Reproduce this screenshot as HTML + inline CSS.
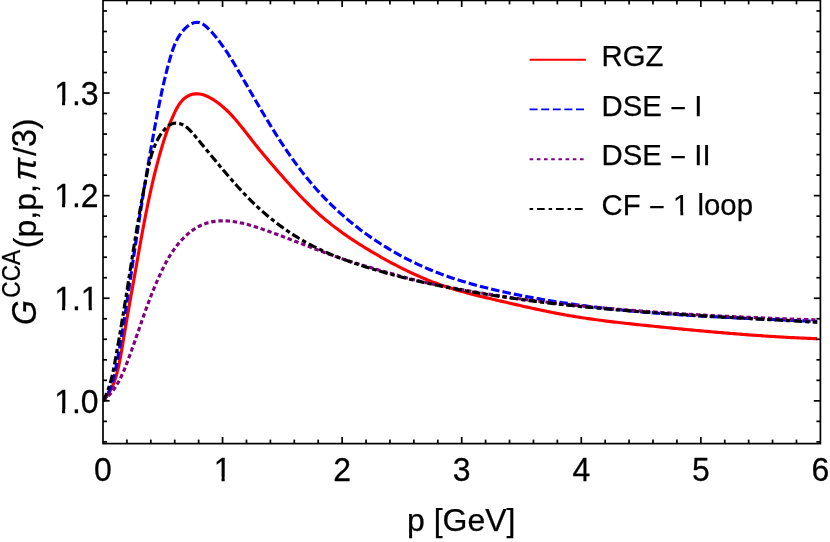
<!DOCTYPE html>
<html><head><meta charset="utf-8"><title>plot</title>
<style>
html,body{margin:0;padding:0;background:#fff;}
body{width:830px;height:542px;overflow:hidden;}
svg{display:block;will-change:transform;}
text{font-family:"Liberation Sans",sans-serif;fill:#000;stroke:#000;stroke-width:0.25px;}
</style></head><body>
<svg width="830" height="542" viewBox="0 0 830 542">
<rect width="830" height="542" fill="#fff"/>
<defs><clipPath id="c"><rect x="103.0" y="0" width="714.1999999999999" height="443.6"/></clipPath></defs>
<g clip-path="url(#c)" fill="none" stroke-linejoin="round">
<path d="M103.00,400.85 L104.39,399.29 L105.69,397.68 L106.92,396.03 L108.08,394.34 L109.16,392.61 L110.18,390.84 L111.13,389.04 L112.02,387.21 L112.85,385.35 L113.63,383.46 L114.36,381.54 L115.04,379.60 L115.68,377.64 L116.28,375.66 L116.84,373.67 L117.36,371.66 L117.86,369.64 L118.33,367.61 L118.78,365.57 L119.20,363.53 L119.62,361.49 L120.01,359.44 L120.40,357.40 L120.78,355.35 L121.15,353.31 L121.51,351.27 L121.86,349.24 L122.21,347.20 L122.56,345.16 L122.90,343.13 L123.24,341.10 L123.57,339.06 L123.91,337.03 L124.24,335.00 L124.57,332.97 L124.91,330.94 L125.25,328.92 L125.58,326.89 L125.93,324.86 L126.27,322.83 L126.62,320.81 L126.96,318.78 L127.31,316.76 L127.66,314.73 L128.02,312.71 L128.37,310.68 L128.73,308.66 L129.08,306.63 L129.44,304.61 L129.80,302.58 L130.16,300.55 L130.52,298.53 L130.88,296.50 L131.24,294.47 L131.60,292.45 L131.97,290.42 L132.33,288.39 L132.69,286.36 L133.05,284.33 L133.42,282.30 L133.78,280.27 L134.14,278.23 L134.50,276.20 L134.86,274.16 L135.22,272.13 L135.58,270.09 L135.94,268.05 L136.30,266.02 L136.66,263.98 L137.02,261.94 L137.38,259.90 L137.74,257.86 L138.10,255.82 L138.46,253.77 L138.83,251.73 L139.19,249.69 L139.56,247.65 L139.92,245.61 L140.29,243.57 L140.66,241.53 L141.03,239.48 L141.40,237.44 L141.78,235.40 L142.15,233.36 L142.53,231.32 L142.91,229.28 L143.29,227.25 L143.68,225.21 L144.07,223.17 L144.46,221.14 L144.85,219.10 L145.25,217.07 L145.64,215.04 L146.05,213.00 L146.45,210.97 L146.86,208.95 L147.27,206.92 L147.69,204.89 L148.11,202.87 L148.53,200.84 L148.96,198.82 L149.39,196.80 L149.83,194.79 L150.27,192.77 L150.71,190.76 L151.16,188.75 L151.62,186.74 L152.08,184.73 L152.54,182.73 L153.01,180.72 L153.48,178.72 L153.96,176.73 L154.45,174.73 L154.94,172.74 L155.44,170.75 L155.94,168.76 L156.45,166.78 L156.96,164.80 L157.48,162.82 L158.01,160.85 L158.54,158.87 L159.08,156.91 L159.63,154.94 L160.18,152.98 L160.74,151.02 L161.31,149.07 L161.89,147.11 L162.47,145.17 L163.07,143.22 L163.67,141.27 L164.29,139.32 L164.93,137.38 L165.58,135.43 L166.24,133.48 L166.93,131.53 L167.63,129.57 L168.35,127.61 L169.09,125.65 L169.86,123.68 L170.65,121.70 L171.46,119.73 L172.30,117.76 L173.17,115.80 L174.07,113.85 L174.99,111.92 L175.95,110.00 L176.95,108.11 L178.00,106.28 L179.11,104.50 L180.30,102.81 L181.58,101.21 L182.95,99.73 L184.44,98.37 L186.04,97.16 L187.75,96.11 L189.54,95.23 L191.41,94.55 L193.34,94.08 L195.31,93.83 L197.31,93.80 L199.32,93.96 L201.31,94.30 L203.28,94.81 L205.20,95.45 L207.08,96.22 L208.92,97.10 L210.72,98.07 L212.48,99.11 L214.20,100.20 L215.90,101.34 L217.56,102.53 L219.19,103.76 L220.79,105.03 L222.37,106.35 L223.92,107.70 L225.44,109.08 L226.94,110.50 L228.41,111.95 L229.87,113.42 L231.30,114.93 L232.72,116.45 L234.11,118.00 L235.49,119.57 L236.86,121.16 L238.21,122.77 L239.55,124.39 L240.88,126.02 L242.19,127.66 L243.50,129.30 L244.80,130.96 L246.09,132.61 L247.38,134.27 L248.66,135.93 L249.95,137.58 L251.22,139.23 L252.50,140.87 L253.78,142.50 L255.07,144.12 L256.35,145.73 L257.64,147.33 L258.93,148.92 L260.22,150.50 L261.52,152.08 L262.82,153.64 L264.12,155.20 L265.42,156.76 L266.73,158.31 L268.05,159.86 L269.36,161.40 L270.68,162.94 L272.01,164.48 L273.34,166.02 L274.67,167.56 L276.01,169.10 L277.35,170.64 L278.70,172.19 L280.05,173.73 L281.41,175.28 L282.77,176.83 L284.14,178.37 L285.51,179.92 L286.89,181.47 L288.27,183.01 L289.66,184.56 L291.06,186.10 L292.46,187.63 L293.87,189.17 L295.29,190.70 L296.71,192.22 L298.14,193.74 L299.57,195.25 L301.02,196.76 L302.47,198.25 L303.92,199.74 L305.39,201.23 L306.86,202.70 L308.34,204.16 L309.83,205.62 L311.32,207.06 L312.83,208.49 L314.34,209.91 L315.86,211.31 L317.39,212.71 L318.93,214.09 L320.48,215.45 L322.03,216.80 L323.60,218.14 L325.17,219.46 L326.75,220.77 L328.34,222.07 L329.94,223.35 L331.55,224.62 L333.16,225.88 L334.79,227.13 L336.42,228.36 L338.06,229.59 L339.70,230.80 L341.36,232.00 L343.02,233.19 L344.69,234.37 L346.37,235.54 L348.05,236.70 L349.74,237.85 L351.44,239.00 L353.15,240.13 L354.86,241.25 L356.58,242.37 L358.31,243.48 L360.04,244.58 L361.78,245.67 L363.53,246.76 L365.28,247.84 L367.04,248.91 L368.80,249.97 L370.57,251.03 L372.35,252.09 L374.13,253.14 L375.92,254.18 L377.71,255.22 L379.51,256.25 L381.32,257.28 L383.13,258.30 L384.94,259.31 L386.77,260.32 L388.59,261.31 L390.42,262.30 L392.26,263.29 L394.10,264.26 L395.95,265.23 L397.80,266.19 L399.66,267.13 L401.52,268.07 L403.38,269.00 L405.25,269.92 L407.13,270.83 L409.00,271.73 L410.89,272.62 L412.77,273.50 L414.66,274.37 L416.56,275.22 L418.46,276.06 L420.36,276.89 L422.27,277.71 L424.18,278.52 L426.09,279.31 L428.01,280.09 L429.93,280.86 L431.85,281.61 L433.78,282.35 L435.71,283.08 L437.64,283.79 L439.58,284.48 L441.52,285.16 L443.46,285.83 L445.41,286.48 L447.35,287.12 L449.30,287.75 L451.26,288.36 L453.21,288.96 L455.17,289.55 L457.13,290.13 L459.10,290.70 L461.06,291.26 L463.03,291.81 L465.01,292.35 L466.98,292.88 L468.96,293.41 L470.93,293.92 L472.92,294.43 L474.90,294.94 L476.88,295.43 L478.87,295.92 L480.86,296.41 L482.85,296.90 L484.85,297.37 L486.84,297.85 L488.84,298.32 L490.84,298.79 L492.84,299.26 L494.84,299.73 L496.85,300.19 L498.85,300.66 L500.86,301.13 L502.87,301.59 L504.88,302.06 L506.90,302.53 L508.91,302.99 L510.93,303.46 L512.95,303.92 L514.96,304.38 L516.98,304.85 L519.01,305.31 L521.03,305.77 L523.05,306.22 L525.08,306.68 L527.10,307.13 L529.13,307.58 L531.16,308.03 L533.19,308.47 L535.22,308.91 L537.25,309.35 L539.28,309.78 L541.32,310.21 L543.35,310.64 L545.38,311.06 L547.42,311.48 L549.46,311.89 L551.49,312.30 L553.53,312.70 L555.57,313.09 L557.60,313.49 L559.64,313.87 L561.68,314.25 L563.72,314.62 L565.76,314.99 L567.80,315.35 L569.84,315.70 L571.88,316.05 L573.92,316.39 L575.96,316.72 L578.00,317.05 L580.04,317.37 L582.09,317.69 L584.13,318.00 L586.17,318.30 L588.21,318.60 L590.25,318.89 L592.30,319.18 L594.34,319.47 L596.38,319.75 L598.43,320.02 L600.47,320.29 L602.51,320.56 L604.56,320.82 L606.60,321.07 L608.65,321.33 L610.69,321.58 L612.74,321.82 L614.78,322.07 L616.83,322.31 L618.87,322.54 L620.92,322.78 L622.97,323.01 L625.01,323.24 L627.06,323.46 L629.11,323.69 L631.15,323.91 L633.20,324.13 L635.25,324.35 L637.30,324.57 L639.34,324.78 L641.39,324.99 L643.44,325.21 L645.49,325.42 L647.54,325.63 L649.59,325.84 L651.64,326.05 L653.69,326.26 L655.74,326.47 L657.79,326.67 L659.84,326.88 L661.89,327.09 L663.94,327.29 L665.99,327.50 L668.04,327.70 L670.09,327.91 L672.14,328.11 L674.20,328.31 L676.25,328.52 L678.30,328.72 L680.35,328.92 L682.41,329.11 L684.46,329.31 L686.51,329.51 L688.56,329.70 L690.62,329.90 L692.67,330.09 L694.73,330.28 L696.78,330.48 L698.83,330.67 L700.89,330.86 L702.94,331.04 L705.00,331.23 L707.05,331.42 L709.11,331.60 L711.17,331.78 L713.22,331.96 L715.28,332.14 L717.33,332.32 L719.39,332.50 L721.45,332.67 L723.50,332.85 L725.56,333.02 L727.62,333.19 L729.68,333.36 L731.73,333.53 L733.79,333.69 L735.85,333.86 L737.91,334.02 L739.97,334.18 L742.03,334.34 L744.08,334.50 L746.14,334.66 L748.20,334.81 L750.26,334.96 L752.32,335.11 L754.38,335.26 L756.44,335.40 L758.50,335.55 L760.56,335.69 L762.62,335.83 L764.68,335.97 L766.75,336.10 L768.81,336.24 L770.87,336.37 L772.93,336.50 L774.99,336.63 L777.05,336.75 L779.12,336.87 L781.18,336.99 L783.24,337.11 L785.30,337.23 L787.37,337.34 L789.43,337.45 L791.49,337.56 L793.56,337.66 L795.62,337.77 L797.68,337.87 L799.75,337.97 L801.81,338.06 L803.88,338.16 L805.94,338.25 L808.01,338.33 L810.07,338.42 L812.14,338.50 L814.20,338.58 L816.27,338.66 L818.33,338.73 L820.40,338.80" stroke="#f00" stroke-width="3.15"/>
<path d="M103.00,400.85 L104.50,398.91 L105.86,396.95 L107.10,394.97 L108.23,392.96 L109.24,390.92 L110.16,388.87 L110.99,386.79 L111.74,384.69 L112.42,382.58 L113.04,380.45 L113.61,378.30 L114.14,376.13 L114.63,373.95 L115.10,371.76 L115.56,369.55 L116.00,367.33 L116.44,365.10 L116.88,362.86 L117.30,360.61 L117.72,358.36 L118.14,356.10 L118.55,353.83 L118.95,351.55 L119.35,349.28 L119.74,347.00 L120.13,344.72 L120.52,342.43 L120.90,340.15 L121.28,337.87 L121.66,335.60 L122.03,333.32 L122.40,331.04 L122.77,328.77 L123.14,326.50 L123.50,324.23 L123.86,321.96 L124.22,319.69 L124.57,317.43 L124.92,315.16 L125.28,312.90 L125.62,310.63 L125.97,308.37 L126.32,306.11 L126.66,303.85 L127.00,301.59 L127.35,299.33 L127.69,297.07 L128.02,294.82 L128.36,292.56 L128.70,290.31 L129.03,288.05 L129.37,285.80 L129.70,283.54 L130.04,281.29 L130.37,279.03 L130.70,276.78 L131.03,274.52 L131.37,272.27 L131.70,270.02 L132.03,267.76 L132.36,265.51 L132.69,263.26 L133.02,261.00 L133.36,258.75 L133.69,256.49 L134.02,254.24 L134.36,251.98 L134.69,249.73 L135.03,247.47 L135.37,245.21 L135.71,242.95 L136.05,240.70 L136.39,238.44 L136.73,236.18 L137.07,233.92 L137.41,231.66 L137.76,229.40 L138.10,227.14 L138.45,224.88 L138.80,222.62 L139.14,220.35 L139.49,218.09 L139.85,215.83 L140.20,213.57 L140.55,211.31 L140.91,209.04 L141.26,206.78 L141.62,204.52 L141.98,202.26 L142.34,199.99 L142.70,197.73 L143.06,195.47 L143.43,193.21 L143.79,190.94 L144.16,188.68 L144.53,186.42 L144.90,184.16 L145.27,181.90 L145.64,179.64 L146.02,177.37 L146.40,175.11 L146.77,172.85 L147.15,170.59 L147.54,168.33 L147.92,166.07 L148.30,163.82 L148.69,161.56 L149.08,159.30 L149.47,157.04 L149.86,154.79 L150.25,152.53 L150.65,150.27 L151.05,148.02 L151.45,145.76 L151.85,143.51 L152.25,141.26 L152.65,139.00 L153.06,136.75 L153.47,134.50 L153.88,132.25 L154.29,130.00 L154.71,127.75 L155.13,125.51 L155.54,123.26 L155.97,121.02 L156.39,118.77 L156.82,116.53 L157.24,114.28 L157.67,112.04 L158.11,109.80 L158.55,107.56 L158.99,105.33 L159.44,103.09 L159.89,100.85 L160.35,98.62 L160.82,96.38 L161.29,94.15 L161.76,91.92 L162.25,89.69 L162.74,87.46 L163.24,85.24 L163.75,83.01 L164.27,80.79 L164.79,78.56 L165.33,76.34 L165.87,74.12 L166.43,71.91 L167.00,69.69 L167.58,67.47 L168.17,65.26 L168.77,63.05 L169.38,60.84 L170.01,58.63 L170.65,56.42 L171.31,54.22 L172.00,52.03 L172.73,49.85 L173.50,47.70 L174.32,45.56 L175.20,43.46 L176.15,41.38 L177.18,39.35 L178.29,37.36 L179.50,35.41 L180.80,33.51 L182.22,31.68 L183.75,29.90 L185.41,28.19 L187.17,26.61 L189.04,25.21 L191.00,24.02 L193.03,23.11 L195.10,22.52 L197.17,22.31 L199.20,22.53 L201.16,23.20 L203.05,24.24 L204.86,25.54 L206.62,27.00 L208.32,28.57 L209.96,30.23 L211.56,31.96 L213.12,33.74 L214.64,35.53 L216.12,37.34 L217.58,39.17 L219.00,41.00 L220.39,42.85 L221.76,44.71 L223.10,46.57 L224.41,48.45 L225.70,50.34 L226.98,52.24 L228.23,54.14 L229.46,56.06 L230.68,57.98 L231.88,59.91 L233.07,61.84 L234.24,63.78 L235.41,65.73 L236.57,67.68 L237.72,69.64 L238.87,71.60 L240.01,73.56 L241.15,75.53 L242.29,77.49 L243.43,79.46 L244.57,81.44 L245.71,83.41 L246.85,85.39 L247.99,87.36 L249.14,89.34 L250.28,91.32 L251.42,93.30 L252.57,95.28 L253.72,97.26 L254.87,99.24 L256.02,101.22 L257.17,103.20 L258.33,105.17 L259.49,107.15 L260.65,109.13 L261.82,111.10 L262.99,113.07 L264.16,115.04 L265.34,117.01 L266.52,118.98 L267.71,120.94 L268.90,122.90 L270.10,124.86 L271.30,126.81 L272.50,128.76 L273.72,130.71 L274.93,132.65 L276.16,134.59 L277.39,136.53 L278.63,138.46 L279.87,140.38 L281.12,142.30 L282.38,144.22 L283.64,146.13 L284.92,148.03 L286.20,149.93 L287.49,151.82 L288.79,153.70 L290.09,155.58 L291.41,157.45 L292.73,159.31 L294.06,161.17 L295.41,163.02 L296.76,164.86 L298.12,166.69 L299.50,168.52 L300.88,170.33 L302.27,172.14 L303.68,173.94 L305.09,175.73 L306.52,177.51 L307.96,179.28 L309.41,181.04 L310.87,182.79 L312.35,184.53 L313.83,186.26 L315.33,187.98 L316.85,189.69 L318.37,191.38 L319.91,193.07 L321.47,194.74 L323.03,196.40 L324.61,198.06 L326.20,199.69 L327.81,201.32 L329.43,202.93 L331.06,204.54 L332.70,206.13 L334.36,207.71 L336.03,209.27 L337.71,210.83 L339.40,212.37 L341.11,213.90 L342.82,215.41 L344.55,216.92 L346.29,218.41 L348.04,219.89 L349.80,221.35 L351.58,222.81 L353.36,224.25 L355.15,225.67 L356.96,227.09 L358.78,228.49 L360.60,229.88 L362.44,231.25 L364.28,232.61 L366.14,233.96 L368.01,235.30 L369.88,236.62 L371.77,237.93 L373.66,239.22 L375.57,240.50 L377.48,241.77 L379.40,243.02 L381.34,244.26 L383.28,245.49 L385.22,246.70 L387.18,247.90 L389.15,249.08 L391.12,250.25 L393.10,251.40 L395.09,252.54 L397.09,253.67 L399.09,254.78 L401.11,255.88 L403.13,256.96 L405.15,258.03 L407.19,259.08 L409.23,260.12 L411.28,261.15 L413.33,262.16 L415.39,263.15 L417.46,264.13 L419.53,265.09 L421.61,266.04 L423.70,266.98 L425.79,267.89 L427.89,268.80 L429.99,269.69 L432.10,270.56 L434.21,271.41 L436.33,272.26 L438.46,273.08 L440.59,273.89 L442.72,274.68 L444.86,275.46 L447.00,276.23 L449.15,276.98 L451.30,277.71 L453.46,278.43 L455.62,279.14 L457.78,279.84 L459.95,280.52 L462.12,281.19 L464.30,281.84 L466.48,282.49 L468.67,283.12 L470.86,283.75 L473.05,284.36 L475.24,284.96 L477.44,285.55 L479.64,286.13 L481.85,286.70 L484.06,287.27 L486.27,287.82 L488.49,288.36 L490.71,288.90 L492.93,289.43 L495.15,289.95 L497.38,290.47 L499.61,290.97 L501.84,291.48 L504.07,291.97 L506.31,292.46 L508.55,292.94 L510.79,293.42 L513.03,293.89 L515.28,294.35 L517.53,294.81 L519.78,295.26 L522.03,295.70 L524.28,296.14 L526.54,296.58 L528.79,297.00 L531.05,297.42 L533.31,297.84 L535.57,298.25 L537.83,298.65 L540.10,299.05 L542.36,299.44 L544.63,299.83 L546.89,300.21 L549.16,300.59 L551.43,300.96 L553.69,301.33 L555.96,301.69 L558.23,302.04 L560.50,302.39 L562.77,302.73 L565.04,303.07 L567.31,303.41 L569.59,303.74 L571.86,304.06 L574.13,304.38 L576.40,304.69 L578.67,305.00 L580.94,305.31 L583.21,305.61 L585.48,305.90 L587.76,306.19 L590.03,306.48 L592.30,306.76 L594.57,307.04 L596.84,307.31 L599.12,307.58 L601.39,307.84 L603.66,308.10 L605.93,308.35 L608.21,308.61 L610.48,308.85 L612.75,309.10 L615.03,309.34 L617.30,309.57 L619.57,309.80 L621.85,310.03 L624.12,310.26 L626.40,310.48 L628.67,310.69 L630.94,310.91 L633.22,311.12 L635.49,311.32 L637.77,311.52 L640.04,311.72 L642.32,311.92 L644.59,312.11 L646.87,312.30 L649.14,312.49 L651.42,312.67 L653.70,312.85 L655.97,313.03 L658.25,313.21 L660.52,313.38 L662.80,313.55 L665.08,313.72 L667.35,313.88 L669.63,314.04 L671.91,314.20 L674.19,314.36 L676.46,314.51 L678.74,314.66 L681.02,314.81 L683.30,314.96 L685.58,315.10 L687.86,315.24 L690.13,315.38 L692.41,315.52 L694.69,315.66 L696.97,315.79 L699.25,315.92 L701.53,316.06 L703.81,316.18 L706.09,316.31 L708.37,316.44 L710.65,316.56 L712.93,316.68 L715.21,316.80 L717.50,316.92 L719.78,317.04 L722.06,317.16 L724.34,317.27 L726.62,317.39 L728.91,317.50 L731.19,317.61 L733.47,317.72 L735.75,317.83 L738.04,317.94 L740.32,318.05 L742.60,318.16 L744.89,318.26 L747.17,318.37 L749.46,318.47 L751.74,318.58 L754.03,318.68 L756.31,318.78 L758.60,318.89 L760.88,318.99 L763.17,319.09 L765.45,319.19 L767.74,319.29 L770.03,319.40 L772.31,319.50 L774.60,319.60 L776.89,319.70 L779.18,319.80 L781.46,319.90 L783.75,320.00 L786.04,320.11 L788.33,320.21 L790.62,320.31 L792.91,320.41 L795.20,320.52 L797.49,320.62 L799.78,320.73 L802.07,320.83 L804.36,320.94 L806.65,321.04 L808.94,321.15 L811.23,321.26 L813.52,321.37 L815.82,321.48 L818.11,321.59 L820.40,321.70" stroke="#00f" stroke-width="3.15" stroke-dasharray="8.5 3.1" stroke-dashoffset="2.4"/>
<path d="M103.00,400.85 L104.31,399.79 L105.57,398.70 L106.79,397.57 L107.97,396.40 L109.11,395.20 L110.21,393.97 L111.27,392.71 L112.30,391.42 L113.30,390.11 L114.26,388.76 L115.19,387.39 L116.08,386.00 L116.96,384.58 L117.80,383.15 L118.61,381.69 L119.41,380.22 L120.18,378.73 L120.92,377.22 L121.65,375.70 L122.36,374.16 L123.05,372.62 L123.72,371.06 L124.38,369.50 L125.02,367.92 L125.65,366.35 L126.27,364.76 L126.88,363.18 L127.49,361.59 L128.08,360.00 L128.68,358.41 L129.26,356.83 L129.84,355.24 L130.42,353.65 L130.99,352.07 L131.56,350.49 L132.13,348.90 L132.69,347.32 L133.25,345.74 L133.80,344.16 L134.36,342.58 L134.91,341.00 L135.46,339.42 L136.01,337.85 L136.55,336.27 L137.10,334.69 L137.64,333.12 L138.18,331.55 L138.73,329.97 L139.27,328.40 L139.81,326.83 L140.36,325.26 L140.90,323.69 L141.45,322.12 L142.00,320.55 L142.54,318.98 L143.09,317.41 L143.65,315.85 L144.20,314.28 L144.76,312.72 L145.32,311.15 L145.88,309.59 L146.45,308.03 L147.02,306.46 L147.60,304.90 L148.17,303.34 L148.76,301.78 L149.35,300.22 L149.94,298.66 L150.54,297.10 L151.14,295.54 L151.76,293.99 L152.37,292.43 L153.00,290.87 L153.63,289.32 L154.26,287.76 L154.91,286.21 L155.56,284.65 L156.22,283.10 L156.89,281.55 L157.56,280.00 L158.25,278.44 L158.94,276.89 L159.65,275.34 L160.36,273.79 L161.09,272.25 L161.82,270.71 L162.57,269.17 L163.33,267.64 L164.10,266.11 L164.89,264.59 L165.69,263.08 L166.51,261.58 L167.34,260.09 L168.19,258.61 L169.05,257.14 L169.94,255.68 L170.84,254.24 L171.76,252.81 L172.70,251.39 L173.66,249.99 L174.64,248.61 L175.64,247.25 L176.66,245.90 L177.71,244.57 L178.78,243.27 L179.87,241.98 L180.99,240.72 L182.13,239.48 L183.30,238.26 L184.50,237.07 L185.72,235.91 L186.96,234.77 L188.23,233.67 L189.52,232.60 L190.84,231.56 L192.18,230.57 L193.54,229.61 L194.92,228.70 L196.33,227.82 L197.75,227.00 L199.20,226.22 L200.67,225.49 L202.15,224.81 L203.66,224.19 L205.18,223.63 L206.72,223.12 L208.28,222.66 L209.85,222.26 L211.43,221.92 L213.03,221.62 L214.65,221.37 L216.27,221.17 L217.90,221.02 L219.54,220.91 L221.19,220.85 L222.84,220.83 L224.50,220.85 L226.16,220.91 L227.82,221.00 L229.49,221.13 L231.15,221.30 L232.82,221.50 L234.48,221.73 L236.14,221.99 L237.80,222.29 L239.45,222.60 L241.10,222.95 L242.75,223.32 L244.40,223.71 L246.04,224.12 L247.68,224.56 L249.32,225.01 L250.95,225.48 L252.59,225.97 L254.21,226.46 L255.84,226.98 L257.46,227.50 L259.08,228.03 L260.70,228.57 L262.32,229.12 L263.93,229.68 L265.53,230.24 L267.14,230.80 L268.74,231.36 L270.34,231.94 L271.94,232.51 L273.53,233.09 L275.13,233.67 L276.72,234.25 L278.30,234.84 L279.89,235.43 L281.47,236.02 L283.05,236.62 L284.63,237.21 L286.21,237.81 L287.79,238.41 L289.36,239.01 L290.93,239.62 L292.51,240.22 L294.08,240.82 L295.65,241.43 L297.21,242.04 L298.78,242.64 L300.35,243.25 L301.91,243.86 L303.48,244.46 L305.04,245.07 L306.61,245.67 L308.17,246.28 L309.73,246.88 L311.29,247.48 L312.86,248.08 L314.42,248.68 L315.98,249.28 L317.54,249.87 L319.11,250.47 L320.67,251.06 L322.23,251.64 L323.80,252.23 L325.36,252.81 L326.93,253.39 L328.49,253.96 L330.06,254.54 L331.63,255.10 L333.20,255.67 L334.77,256.22 L336.34,256.78 L337.91,257.33 L339.49,257.87 L341.06,258.41 L342.64,258.95 L344.22,259.48 L345.80,260.00 L347.39,260.52 L348.97,261.04 L350.56,261.54 L352.15,262.05 L353.74,262.55 L355.33,263.04 L356.92,263.54 L358.52,264.02 L360.11,264.51 L361.71,264.99 L363.31,265.47 L364.91,265.95 L366.52,266.42 L368.12,266.89 L369.73,267.36 L371.34,267.83 L372.94,268.29 L374.55,268.76 L376.17,269.22 L377.78,269.68 L379.39,270.15 L381.01,270.61 L382.62,271.07 L384.24,271.53 L385.86,271.99 L387.48,272.46 L389.10,272.92 L390.73,273.39 L392.35,273.85 L393.97,274.32 L395.60,274.78 L397.23,275.24 L398.85,275.71 L400.48,276.16 L402.11,276.62 L403.74,277.07 L405.38,277.51 L407.01,277.95 L408.64,278.39 L410.28,278.81 L411.91,279.23 L413.55,279.64 L415.18,280.05 L416.82,280.44 L418.46,280.83 L420.10,281.22 L421.74,281.60 L423.38,281.97 L425.02,282.34 L426.66,282.70 L428.30,283.06 L429.94,283.42 L431.59,283.77 L433.23,284.11 L434.87,284.46 L436.52,284.79 L438.16,285.13 L439.81,285.46 L441.45,285.80 L443.10,286.12 L444.75,286.45 L446.39,286.77 L448.04,287.09 L449.69,287.41 L451.33,287.73 L452.98,288.04 L454.63,288.35 L456.28,288.66 L457.93,288.96 L459.58,289.27 L461.23,289.57 L462.88,289.87 L464.53,290.16 L466.18,290.46 L467.83,290.75 L469.48,291.04 L471.14,291.32 L472.79,291.61 L474.44,291.89 L476.09,292.17 L477.75,292.45 L479.40,292.72 L481.05,293.00 L482.71,293.27 L484.36,293.54 L486.02,293.80 L487.67,294.07 L489.33,294.33 L490.98,294.59 L492.64,294.85 L494.30,295.10 L495.95,295.36 L497.61,295.61 L499.27,295.86 L500.93,296.11 L502.58,296.35 L504.24,296.59 L505.90,296.84 L507.56,297.08 L509.22,297.31 L510.88,297.55 L512.54,297.78 L514.20,298.01 L515.86,298.24 L517.52,298.47 L519.18,298.70 L520.84,298.92 L522.50,299.14 L524.16,299.36 L525.82,299.58 L527.49,299.80 L529.15,300.01 L530.81,300.22 L532.47,300.44 L534.14,300.65 L535.80,300.85 L537.46,301.06 L539.13,301.26 L540.79,301.47 L542.46,301.67 L544.12,301.87 L545.79,302.06 L547.45,302.26 L549.12,302.45 L550.78,302.65 L552.45,302.84 L554.11,303.03 L555.78,303.22 L557.45,303.40 L559.11,303.59 L560.78,303.77 L562.45,303.95 L564.11,304.13 L565.78,304.31 L567.45,304.49 L569.12,304.66 L570.79,304.84 L572.45,305.01 L574.12,305.18 L575.79,305.35 L577.46,305.52 L579.13,305.69 L580.80,305.86 L582.47,306.02 L584.14,306.18 L585.81,306.35 L587.48,306.51 L589.15,306.67 L590.82,306.83 L592.49,306.98 L594.16,307.14 L595.83,307.29 L597.50,307.45 L599.17,307.60 L600.85,307.75 L602.52,307.90 L604.19,308.05 L605.86,308.20 L607.53,308.34 L609.21,308.49 L610.88,308.63 L612.55,308.78 L614.22,308.92 L615.90,309.06 L617.57,309.20 L619.24,309.34 L620.92,309.48 L622.59,309.62 L624.26,309.75 L625.94,309.89 L627.61,310.02 L629.28,310.15 L630.96,310.29 L632.63,310.42 L634.31,310.55 L635.98,310.68 L637.66,310.80 L639.33,310.93 L641.01,311.06 L642.68,311.18 L644.36,311.30 L646.03,311.43 L647.71,311.55 L649.38,311.67 L651.06,311.79 L652.73,311.91 L654.41,312.03 L656.08,312.14 L657.76,312.26 L659.44,312.38 L661.11,312.49 L662.79,312.60 L664.46,312.72 L666.14,312.83 L667.82,312.94 L669.49,313.05 L671.17,313.16 L672.85,313.26 L674.52,313.37 L676.20,313.48 L677.88,313.58 L679.55,313.69 L681.23,313.79 L682.91,313.90 L684.58,314.00 L686.26,314.10 L687.94,314.20 L689.61,314.30 L691.29,314.40 L692.97,314.49 L694.65,314.59 L696.32,314.69 L698.00,314.78 L699.68,314.88 L701.36,314.97 L703.03,315.07 L704.71,315.16 L706.39,315.25 L708.07,315.34 L709.74,315.43 L711.42,315.52 L713.10,315.61 L714.78,315.70 L716.45,315.78 L718.13,315.87 L719.81,315.96 L721.49,316.04 L723.16,316.13 L724.84,316.21 L726.52,316.29 L728.20,316.37 L729.87,316.46 L731.55,316.54 L733.23,316.62 L734.91,316.70 L736.58,316.77 L738.26,316.85 L739.94,316.93 L741.62,317.01 L743.29,317.08 L744.97,317.16 L746.65,317.23 L748.33,317.31 L750.00,317.38 L751.68,317.46 L753.36,317.53 L755.04,317.60 L756.71,317.67 L758.39,317.74 L760.07,317.81 L761.75,317.88 L763.42,317.95 L765.10,318.02 L766.78,318.09 L768.45,318.15 L770.13,318.22 L771.81,318.29 L773.48,318.35 L775.16,318.42 L776.84,318.48 L778.51,318.55 L780.19,318.61 L781.87,318.67 L783.54,318.74 L785.22,318.80 L786.90,318.86 L788.57,318.92 L790.25,318.98 L791.92,319.04 L793.60,319.10 L795.28,319.16 L796.95,319.22 L798.63,319.28 L800.30,319.34 L801.98,319.39 L803.65,319.45 L805.33,319.51 L807.00,319.56 L808.68,319.62 L810.35,319.68 L812.03,319.73 L813.70,319.79 L815.38,319.84 L817.05,319.89 L818.73,319.95 L820.40,320.00" stroke="#800080" stroke-width="3.15" stroke-dasharray="4.4 2.8"/>
<path d="M103.00,400.85 L103.97,399.01 L104.88,397.15 L105.74,395.30 L106.55,393.43 L107.31,391.56 L108.02,389.69 L108.69,387.81 L109.32,385.92 L109.92,384.03 L110.48,382.14 L111.00,380.24 L111.50,378.33 L111.97,376.42 L112.42,374.50 L112.85,372.59 L113.26,370.66 L113.65,368.73 L114.02,366.80 L114.39,364.87 L114.75,362.93 L115.11,360.99 L115.46,359.04 L115.81,357.09 L116.16,355.14 L116.51,353.18 L116.85,351.22 L117.20,349.26 L117.55,347.30 L117.89,345.34 L118.23,343.37 L118.58,341.40 L118.92,339.43 L119.26,337.45 L119.60,335.48 L119.94,333.50 L120.27,331.52 L120.61,329.54 L120.95,327.56 L121.28,325.58 L121.61,323.60 L121.95,321.61 L122.28,319.63 L122.61,317.65 L122.93,315.66 L123.26,313.68 L123.59,311.69 L123.91,309.71 L124.24,307.72 L124.56,305.74 L124.88,303.76 L125.20,301.78 L125.52,299.79 L125.84,297.81 L126.15,295.83 L126.47,293.86 L126.78,291.88 L127.10,289.90 L127.41,287.93 L127.72,285.95 L128.03,283.98 L128.34,282.01 L128.65,280.04 L128.96,278.07 L129.27,276.10 L129.58,274.13 L129.89,272.16 L130.20,270.20 L130.51,268.23 L130.81,266.26 L131.12,264.30 L131.43,262.33 L131.74,260.37 L132.05,258.41 L132.36,256.44 L132.67,254.48 L132.98,252.52 L133.29,250.56 L133.60,248.59 L133.92,246.63 L134.23,244.67 L134.55,242.71 L134.87,240.75 L135.18,238.79 L135.50,236.83 L135.82,234.87 L136.15,232.91 L136.47,230.95 L136.79,228.99 L137.12,227.03 L137.45,225.07 L137.78,223.11 L138.12,221.15 L138.45,219.19 L138.79,217.23 L139.13,215.27 L139.47,213.31 L139.81,211.35 L140.16,209.39 L140.51,207.43 L140.86,205.46 L141.22,203.50 L141.57,201.54 L141.94,199.58 L142.30,197.61 L142.67,195.65 L143.04,193.68 L143.41,191.72 L143.79,189.75 L144.17,187.78 L144.55,185.81 L144.94,183.85 L145.33,181.88 L145.72,179.91 L146.12,177.94 L146.53,175.96 L146.93,173.99 L147.34,172.02 L147.76,170.04 L148.19,168.07 L148.62,166.10 L149.07,164.13 L149.54,162.17 L150.03,160.22 L150.54,158.27 L151.08,156.34 L151.64,154.41 L152.24,152.50 L152.88,150.61 L153.55,148.73 L154.27,146.87 L155.03,145.02 L155.84,143.20 L156.70,141.40 L157.62,139.63 L158.59,137.88 L159.62,136.15 L160.71,134.46 L161.87,132.79 L163.10,131.16 L164.41,129.57 L165.79,128.05 L167.25,126.67 L168.80,125.45 L170.45,124.45 L172.19,123.71 L174.03,123.28 L175.93,123.13 L177.84,123.25 L179.71,123.61 L181.50,124.20 L183.20,124.98 L184.83,125.94 L186.39,127.06 L187.89,128.31 L189.34,129.66 L190.74,131.11 L192.12,132.62 L193.46,134.18 L194.80,135.76 L196.13,137.34 L197.45,138.92 L198.76,140.50 L200.07,142.07 L201.38,143.65 L202.68,145.22 L203.98,146.79 L205.28,148.36 L206.57,149.93 L207.86,151.50 L209.14,153.06 L210.42,154.62 L211.71,156.18 L212.99,157.73 L214.27,159.29 L215.55,160.83 L216.82,162.38 L218.10,163.92 L219.38,165.46 L220.66,166.99 L221.94,168.52 L223.22,170.04 L224.51,171.56 L225.79,173.08 L227.08,174.59 L228.37,176.10 L229.67,177.60 L230.97,179.09 L232.27,180.59 L233.58,182.07 L234.89,183.55 L236.21,185.02 L237.53,186.49 L238.86,187.95 L240.19,189.40 L241.53,190.85 L242.88,192.29 L244.24,193.73 L245.60,195.15 L246.97,196.57 L248.35,197.98 L249.74,199.39 L251.13,200.78 L252.54,202.17 L253.95,203.55 L255.38,204.92 L256.82,206.28 L258.26,207.63 L259.72,208.97 L261.19,210.30 L262.68,211.62 L264.17,212.93 L265.68,214.23 L267.20,215.52 L268.73,216.80 L270.27,218.07 L271.82,219.32 L273.39,220.57 L274.96,221.80 L276.55,223.03 L278.15,224.24 L279.76,225.43 L281.38,226.62 L283.01,227.79 L284.64,228.95 L286.29,230.10 L287.95,231.23 L289.62,232.35 L291.30,233.46 L292.98,234.56 L294.68,235.63 L296.38,236.70 L298.09,237.75 L299.81,238.79 L301.54,239.81 L303.28,240.82 L305.02,241.81 L306.78,242.79 L308.54,243.75 L310.30,244.69 L312.08,245.62 L313.86,246.54 L315.64,247.43 L317.44,248.31 L319.24,249.18 L321.04,250.03 L322.86,250.87 L324.67,251.69 L326.50,252.50 L328.33,253.29 L330.16,254.07 L332.00,254.84 L333.84,255.59 L335.69,256.34 L337.55,257.07 L339.40,257.79 L341.27,258.50 L343.13,259.20 L345.00,259.89 L346.87,260.57 L348.75,261.24 L350.63,261.90 L352.51,262.55 L354.40,263.20 L356.28,263.84 L358.17,264.47 L360.07,265.09 L361.96,265.71 L363.86,266.32 L365.76,266.93 L367.66,267.52 L369.56,268.12 L371.47,268.70 L373.38,269.28 L375.28,269.85 L377.20,270.42 L379.11,270.98 L381.02,271.54 L382.94,272.09 L384.86,272.63 L386.78,273.17 L388.70,273.70 L390.63,274.23 L392.55,274.75 L394.48,275.26 L396.41,275.77 L398.34,276.27 L400.27,276.77 L402.20,277.27 L404.14,277.75 L406.08,278.24 L408.01,278.72 L409.95,279.19 L411.89,279.66 L413.84,280.12 L415.78,280.58 L417.72,281.03 L419.67,281.48 L421.62,281.92 L423.57,282.36 L425.52,282.79 L427.47,283.22 L429.42,283.65 L431.37,284.07 L433.33,284.49 L435.28,284.90 L437.24,285.31 L439.19,285.71 L441.15,286.11 L443.11,286.51 L445.07,286.90 L447.03,287.29 L448.99,287.67 L450.95,288.05 L452.91,288.43 L454.88,288.80 L456.84,289.17 L458.80,289.53 L460.77,289.90 L462.73,290.25 L464.70,290.61 L466.67,290.96 L468.63,291.31 L470.60,291.66 L472.57,292.00 L474.54,292.34 L476.51,292.67 L478.47,293.01 L480.44,293.34 L482.41,293.66 L484.38,293.99 L486.35,294.31 L488.33,294.63 L490.30,294.94 L492.27,295.25 L494.24,295.56 L496.21,295.87 L498.19,296.17 L500.16,296.47 L502.13,296.77 L504.11,297.06 L506.08,297.36 L508.06,297.64 L510.03,297.93 L512.01,298.21 L513.98,298.50 L515.96,298.77 L517.94,299.05 L519.91,299.32 L521.89,299.59 L523.87,299.86 L525.84,300.12 L527.82,300.39 L529.80,300.65 L531.78,300.90 L533.76,301.16 L535.74,301.41 L537.72,301.66 L539.70,301.91 L541.68,302.15 L543.66,302.39 L545.64,302.63 L547.62,302.87 L549.60,303.11 L551.59,303.34 L553.57,303.57 L555.55,303.80 L557.53,304.03 L559.52,304.25 L561.50,304.47 L563.48,304.69 L565.47,304.91 L567.45,305.13 L569.43,305.34 L571.42,305.55 L573.40,305.76 L575.39,305.97 L577.37,306.17 L579.36,306.37 L581.35,306.57 L583.33,306.77 L585.32,306.97 L587.30,307.17 L589.29,307.36 L591.28,307.55 L593.26,307.74 L595.25,307.93 L597.24,308.11 L599.23,308.30 L601.22,308.48 L603.20,308.66 L605.19,308.84 L607.18,309.02 L609.17,309.19 L611.16,309.36 L613.15,309.54 L615.14,309.71 L617.13,309.88 L619.12,310.04 L621.11,310.21 L623.10,310.37 L625.09,310.53 L627.08,310.70 L629.07,310.85 L631.06,311.01 L633.05,311.17 L635.04,311.32 L637.03,311.48 L639.02,311.63 L641.01,311.78 L643.00,311.93 L645.00,312.08 L646.99,312.23 L648.98,312.37 L650.97,312.52 L652.96,312.66 L654.96,312.80 L656.95,312.94 L658.94,313.08 L660.93,313.22 L662.93,313.36 L664.92,313.50 L666.91,313.63 L668.91,313.77 L670.90,313.90 L672.89,314.03 L674.89,314.16 L676.88,314.29 L678.87,314.42 L680.87,314.55 L682.86,314.68 L684.85,314.80 L686.85,314.93 L688.84,315.05 L690.83,315.18 L692.83,315.30 L694.82,315.42 L696.82,315.55 L698.81,315.67 L700.80,315.79 L702.80,315.91 L704.79,316.03 L706.79,316.14 L708.78,316.26 L710.78,316.38 L712.77,316.50 L714.76,316.61 L716.76,316.73 L718.75,316.84 L720.75,316.96 L722.74,317.07 L724.74,317.18 L726.73,317.30 L728.72,317.41 L730.72,317.52 L732.71,317.63 L734.71,317.74 L736.70,317.85 L738.70,317.97 L740.69,318.08 L742.68,318.19 L744.68,318.30 L746.67,318.41 L748.67,318.51 L750.66,318.62 L752.65,318.73 L754.65,318.84 L756.64,318.95 L758.64,319.06 L760.63,319.17 L762.62,319.28 L764.62,319.39 L766.61,319.49 L768.60,319.60 L770.60,319.71 L772.59,319.82 L774.58,319.93 L776.58,320.04 L778.57,320.15 L780.56,320.26 L782.56,320.37 L784.55,320.48 L786.54,320.58 L788.53,320.69 L790.53,320.80 L792.52,320.92 L794.51,321.03 L796.50,321.14 L798.50,321.25 L800.49,321.36 L802.48,321.47 L804.47,321.58 L806.46,321.70 L808.45,321.81 L810.45,321.92 L812.44,322.04 L814.43,322.15 L816.42,322.27 L818.41,322.38 L820.40,322.50" stroke="#000" stroke-width="3.15" stroke-dasharray="4.3 3.1 8.5 3.1" stroke-dashoffset="7.2"/>
</g>
<g stroke="#000" stroke-width="1.7" fill="none">
<rect x="103.0" y="0.4" width="717.4" height="443.20000000000005"/>
<line x1="126.91" y1="443.6" x2="126.91" y2="439.6"/>
<line x1="126.91" y1="0.4" x2="126.91" y2="4.4"/>
<line x1="150.83" y1="443.6" x2="150.83" y2="439.6"/>
<line x1="150.83" y1="0.4" x2="150.83" y2="4.4"/>
<line x1="174.74" y1="443.6" x2="174.74" y2="439.6"/>
<line x1="174.74" y1="0.4" x2="174.74" y2="4.4"/>
<line x1="198.65" y1="443.6" x2="198.65" y2="439.6"/>
<line x1="198.65" y1="0.4" x2="198.65" y2="4.4"/>
<line x1="222.57" y1="443.6" x2="222.57" y2="437.0"/>
<line x1="222.57" y1="0.4" x2="222.57" y2="7.0"/>
<line x1="246.48" y1="443.6" x2="246.48" y2="439.6"/>
<line x1="246.48" y1="0.4" x2="246.48" y2="4.4"/>
<line x1="270.39" y1="443.6" x2="270.39" y2="439.6"/>
<line x1="270.39" y1="0.4" x2="270.39" y2="4.4"/>
<line x1="294.31" y1="443.6" x2="294.31" y2="439.6"/>
<line x1="294.31" y1="0.4" x2="294.31" y2="4.4"/>
<line x1="318.22" y1="443.6" x2="318.22" y2="439.6"/>
<line x1="318.22" y1="0.4" x2="318.22" y2="4.4"/>
<line x1="342.13" y1="443.6" x2="342.13" y2="437.0"/>
<line x1="342.13" y1="0.4" x2="342.13" y2="7.0"/>
<line x1="366.05" y1="443.6" x2="366.05" y2="439.6"/>
<line x1="366.05" y1="0.4" x2="366.05" y2="4.4"/>
<line x1="389.96" y1="443.6" x2="389.96" y2="439.6"/>
<line x1="389.96" y1="0.4" x2="389.96" y2="4.4"/>
<line x1="413.87" y1="443.6" x2="413.87" y2="439.6"/>
<line x1="413.87" y1="0.4" x2="413.87" y2="4.4"/>
<line x1="437.79" y1="443.6" x2="437.79" y2="439.6"/>
<line x1="437.79" y1="0.4" x2="437.79" y2="4.4"/>
<line x1="461.70" y1="443.6" x2="461.70" y2="437.0"/>
<line x1="461.70" y1="0.4" x2="461.70" y2="7.0"/>
<line x1="485.61" y1="443.6" x2="485.61" y2="439.6"/>
<line x1="485.61" y1="0.4" x2="485.61" y2="4.4"/>
<line x1="509.53" y1="443.6" x2="509.53" y2="439.6"/>
<line x1="509.53" y1="0.4" x2="509.53" y2="4.4"/>
<line x1="533.44" y1="443.6" x2="533.44" y2="439.6"/>
<line x1="533.44" y1="0.4" x2="533.44" y2="4.4"/>
<line x1="557.35" y1="443.6" x2="557.35" y2="439.6"/>
<line x1="557.35" y1="0.4" x2="557.35" y2="4.4"/>
<line x1="581.27" y1="443.6" x2="581.27" y2="437.0"/>
<line x1="581.27" y1="0.4" x2="581.27" y2="7.0"/>
<line x1="605.18" y1="443.6" x2="605.18" y2="439.6"/>
<line x1="605.18" y1="0.4" x2="605.18" y2="4.4"/>
<line x1="629.09" y1="443.6" x2="629.09" y2="439.6"/>
<line x1="629.09" y1="0.4" x2="629.09" y2="4.4"/>
<line x1="653.01" y1="443.6" x2="653.01" y2="439.6"/>
<line x1="653.01" y1="0.4" x2="653.01" y2="4.4"/>
<line x1="676.92" y1="443.6" x2="676.92" y2="439.6"/>
<line x1="676.92" y1="0.4" x2="676.92" y2="4.4"/>
<line x1="700.83" y1="443.6" x2="700.83" y2="437.0"/>
<line x1="700.83" y1="0.4" x2="700.83" y2="7.0"/>
<line x1="724.75" y1="443.6" x2="724.75" y2="439.6"/>
<line x1="724.75" y1="0.4" x2="724.75" y2="4.4"/>
<line x1="748.66" y1="443.6" x2="748.66" y2="439.6"/>
<line x1="748.66" y1="0.4" x2="748.66" y2="4.4"/>
<line x1="772.57" y1="443.6" x2="772.57" y2="439.6"/>
<line x1="772.57" y1="0.4" x2="772.57" y2="4.4"/>
<line x1="796.49" y1="443.6" x2="796.49" y2="439.6"/>
<line x1="796.49" y1="0.4" x2="796.49" y2="4.4"/>
<line x1="103.0" y1="441.89" x2="107.0" y2="441.89"/>
<line x1="820.4" y1="441.89" x2="816.4" y2="441.89"/>
<line x1="103.0" y1="421.37" x2="107.0" y2="421.37"/>
<line x1="820.4" y1="421.37" x2="816.4" y2="421.37"/>
<line x1="103.0" y1="400.85" x2="109.6" y2="400.85"/>
<line x1="820.4" y1="400.85" x2="813.8" y2="400.85"/>
<line x1="103.0" y1="380.33" x2="107.0" y2="380.33"/>
<line x1="820.4" y1="380.33" x2="816.4" y2="380.33"/>
<line x1="103.0" y1="359.81" x2="107.0" y2="359.81"/>
<line x1="820.4" y1="359.81" x2="816.4" y2="359.81"/>
<line x1="103.0" y1="339.29" x2="107.0" y2="339.29"/>
<line x1="820.4" y1="339.29" x2="816.4" y2="339.29"/>
<line x1="103.0" y1="318.77" x2="107.0" y2="318.77"/>
<line x1="820.4" y1="318.77" x2="816.4" y2="318.77"/>
<line x1="103.0" y1="298.25" x2="109.6" y2="298.25"/>
<line x1="820.4" y1="298.25" x2="813.8" y2="298.25"/>
<line x1="103.0" y1="277.73" x2="107.0" y2="277.73"/>
<line x1="820.4" y1="277.73" x2="816.4" y2="277.73"/>
<line x1="103.0" y1="257.21" x2="107.0" y2="257.21"/>
<line x1="820.4" y1="257.21" x2="816.4" y2="257.21"/>
<line x1="103.0" y1="236.69" x2="107.0" y2="236.69"/>
<line x1="820.4" y1="236.69" x2="816.4" y2="236.69"/>
<line x1="103.0" y1="216.17" x2="107.0" y2="216.17"/>
<line x1="820.4" y1="216.17" x2="816.4" y2="216.17"/>
<line x1="103.0" y1="195.65" x2="109.6" y2="195.65"/>
<line x1="820.4" y1="195.65" x2="813.8" y2="195.65"/>
<line x1="103.0" y1="175.13" x2="107.0" y2="175.13"/>
<line x1="820.4" y1="175.13" x2="816.4" y2="175.13"/>
<line x1="103.0" y1="154.61" x2="107.0" y2="154.61"/>
<line x1="820.4" y1="154.61" x2="816.4" y2="154.61"/>
<line x1="103.0" y1="134.09" x2="107.0" y2="134.09"/>
<line x1="820.4" y1="134.09" x2="816.4" y2="134.09"/>
<line x1="103.0" y1="113.57" x2="107.0" y2="113.57"/>
<line x1="820.4" y1="113.57" x2="816.4" y2="113.57"/>
<line x1="103.0" y1="93.05" x2="109.6" y2="93.05"/>
<line x1="820.4" y1="93.05" x2="813.8" y2="93.05"/>
<line x1="103.0" y1="72.53" x2="107.0" y2="72.53"/>
<line x1="820.4" y1="72.53" x2="816.4" y2="72.53"/>
<line x1="103.0" y1="52.01" x2="107.0" y2="52.01"/>
<line x1="820.4" y1="52.01" x2="816.4" y2="52.01"/>
<line x1="103.0" y1="31.49" x2="107.0" y2="31.49"/>
<line x1="820.4" y1="31.49" x2="816.4" y2="31.49"/>
<line x1="103.0" y1="10.97" x2="107.0" y2="10.97"/>
<line x1="820.4" y1="10.97" x2="816.4" y2="10.97"/>
</g>
<g font-size="32">
<text transform="translate(103.00,480.5) scale(1,1.035)" text-anchor="middle">0</text>
<text transform="translate(222.57,480.5) scale(1,1.035)" text-anchor="middle">1</text>
<text transform="translate(342.13,480.5) scale(1,1.035)" text-anchor="middle">2</text>
<text transform="translate(461.70,480.5) scale(1,1.035)" text-anchor="middle">3</text>
<text transform="translate(581.27,480.5) scale(1,1.035)" text-anchor="middle">4</text>
<text transform="translate(700.83,480.5) scale(1,1.035)" text-anchor="middle">5</text>
<text transform="translate(820.40,480.5) scale(1,1.035)" text-anchor="middle">6</text>
<text transform="translate(98.6,412.60) scale(1,1.035)" text-anchor="end">1.0</text>
<text transform="translate(98.6,310.00) scale(1,1.035)" text-anchor="end">1.1</text>
<text transform="translate(98.6,207.40) scale(1,1.035)" text-anchor="end">1.2</text>
<text transform="translate(98.6,104.80) scale(1,1.035)" text-anchor="end">1.3</text>
<text x="461.2" y="531.1" text-anchor="middle">p [GeV]</text>
<text transform="translate(35.9,325.1) rotate(-90) scale(1,1.07)" font-style="italic">G</text>
<text transform="translate(19.7,297.7) rotate(-90) scale(1,1.10)" font-size="22.7">CCA</text>
<text transform="translate(35.5,248.2) rotate(-90)">(p,p,</text>
<text transform="translate(35.6,180.6) rotate(-90)" font-style="italic" font-size="33.8">π</text>
<text transform="translate(35.8,156.0) rotate(-90)">/</text>
<text transform="translate(36.1,147.1) rotate(-90) scale(1,1.07)">3</text>
<text transform="translate(35.5,129.3) rotate(-90)">)</text>
</g>
<g fill="none">
<line x1="529.6" y1="59.8" x2="585.9" y2="59.8" stroke="#f00" stroke-width="1.9"/>
<line x1="529.6" y1="109.4" x2="585.9" y2="109.4" stroke="#00f" stroke-width="1.9" stroke-dasharray="8.0 3.6"/>
<line x1="529.6" y1="159.2" x2="585.9" y2="159.2" stroke="#800080" stroke-width="1.9" stroke-dasharray="3.6 3.6"/>
<line x1="529.6" y1="209.0" x2="585.9" y2="209.0" stroke="#000" stroke-width="1.9" stroke-dasharray="3.5 3.9 7.7 3.9"/>
</g>
<g font-size="29.3">
<text x="601.5" y="65.6">RGZ</text>
<text x="601.5" y="115.5">DSE <tspan x="671.38" textLength="13.3" lengthAdjust="spacingAndGlyphs">–</tspan><tspan x="686.18"> I</tspan></text>
<text x="601.5" y="165.3">DSE <tspan x="671.38" textLength="13.3" lengthAdjust="spacingAndGlyphs">–</tspan><tspan x="686.18"> II</tspan></text>
<text x="601.5" y="215">CF <tspan x="650.20" textLength="13.3" lengthAdjust="spacingAndGlyphs">–</tspan><tspan x="664.99"> 1 loop</tspan></text>
</g>
<g fill="#fff">
<rect x="214.50" y="477.02" width="7.05" height="5.88"/><rect x="224.70" y="477.02" width="6.79" height="5.88"/>
<rect x="54.95" y="409.12" width="7.05" height="5.88"/><rect x="65.15" y="409.12" width="6.79" height="5.88"/>
<rect x="54.95" y="306.52" width="7.05" height="5.88"/><rect x="65.15" y="306.52" width="6.79" height="5.88"/>
<rect x="54.95" y="203.92" width="7.05" height="5.88"/><rect x="65.15" y="203.92" width="6.79" height="5.88"/>
<rect x="54.95" y="101.32" width="7.05" height="5.88"/><rect x="65.15" y="101.32" width="6.79" height="5.88"/>
<rect x="81.64" y="306.52" width="7.05" height="5.88"/><rect x="91.84" y="306.52" width="6.79" height="5.88"/>
<rect x="673.78" y="211.80" width="6.58" height="5.60"/><rect x="683.26" y="211.80" width="6.34" height="5.60"/>
</g>
</svg>
</body></html>
